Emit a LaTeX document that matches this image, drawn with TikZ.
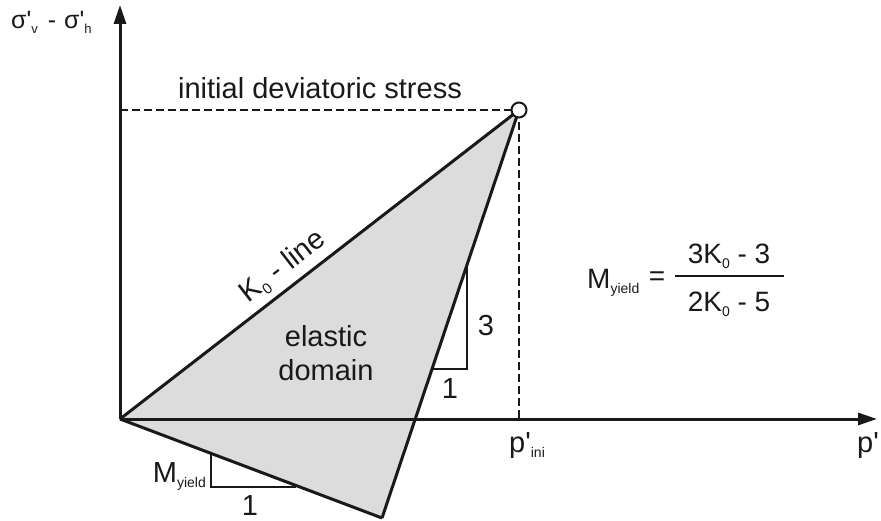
\documentclass[tikz,border=0pt]{standalone}
\usepackage{fontspec}
\newfontfamily\arialf{Liberation Sans}
\usetikzlibrary{arrows.meta}
\definecolor{domaingray}{RGB}{220,220,220}
\definecolor{ink}{RGB}{25,25,25}
\newcommand\lsub[1]{\raisebox{-5pt}{\fontsize{15}{15}\selectfont #1}}
\newcommand\ssub[1]{\raisebox{-5pt}{\fontsize{14}{14}\selectfont #1}}
\newcommand\tsub[1]{\raisebox{-5pt}{\fontsize{13}{13}\selectfont #1}}
\tikzset{
  lbl/.style={font=\arialf\fontsize{29}{33}\selectfont, text=ink, inner sep=0pt},
  flbl/.style={font=\arialf\fontsize{28}{32}\selectfont, text=ink, inner sep=0pt},
  axis/.style={line width=3pt, draw=ink, -{Triangle[length=19pt,width=12pt]}},
  edge/.style={line width=3pt, draw=ink, line join=miter},
  guide/.style={line width=2pt, draw=ink, dash pattern=on 8pt off 4pt},
  slope/.style={line width=2.5pt, draw=ink},
}
\begin{document}
\begin{tikzpicture}[x=1pt,y=-1pt]
\useasboundingbox (0,0) rectangle (881,521);
% key points
\coordinate (O) at (120,419);
\coordinate (A) at (519,110);
\coordinate (B) at (382,518);
\coordinate (Ytop) at (120,5);
\coordinate (Xend) at (877,419);
\coordinate (Yini) at (120,110);
\coordinate (Pini) at (519,419);
% elastic domain
\fill[domaingray] (O) -- (A) -- (B) -- cycle;
% axes
\draw[axis] (O) -- (Ytop);
\draw[axis] (O) -- (Xend);
% guides
\draw[guide] (Yini) -- (A);
\draw[guide] (A) -- (Pini);
% domain edges
\draw[edge] (O) -- node[lbl, pos=0.44, sloped, above=6pt] {K\lsub{0} - line} (A);
\draw[edge] (A) -- (B);
\draw[edge] (B) -- (O);
% apex marker
\node[circle, draw=ink, fill=white, line width=2pt, minimum size=15pt, inner sep=0pt] (apex) at (A) {};
% slope triangle 3:1
\coordinate (T1) at (467,267);
\coordinate (T2) at (467,369);
\coordinate (T3) at (432,369);
\draw[slope] (T1) -- (T2) -- (T3);
\node[lbl, anchor=base] (three) at (486,335) {3};
\node[lbl, anchor=base] (oneA) at (450,398) {1};
% slope triangle M_yield:1
\coordinate (M1) at (211,454);
\coordinate (M2) at (211,487);
\coordinate (M3) at (296,487);
\draw[slope] (M1) -- (M2) -- (M3);
\node[lbl, anchor=base east] (my) at (206,482) {M\ssub{yield}};
\node[lbl, anchor=base] (oneB) at (250,515) {1};
% texts
\node[lbl, anchor=base] (init) at (320,99) {initial deviatoric stress};
\node[lbl, anchor=base west, font=\arialf\fontsize{25}{29}\selectfont] (sig) at (11,29) {σ'\tsub{v}\hspace{3pt} - \hspace{1pt}σ'\tsub{h}};
\node[lbl, anchor=base] (el) at (326,346) {elastic};
\node[lbl, anchor=base] (dom) at (326,380) {domain};
\node[lbl, anchor=base west] (pini) at (509,452) {p'\ssub{ini}};
\node[lbl, anchor=base west] (pp) at (857,452) {p'};
% formula
\node[flbl, anchor=base west] (fm) at (587,289) {M\ssub{yield}};
\node[flbl, anchor=center] (feq) at (657,279) {=};
\node[flbl, anchor=base] (fnum) at (729,264) {3K\ssub{0} - 3};
\node[flbl, anchor=base] (fden) at (729,312) {2K\ssub{0} - 5};
\coordinate (B1) at (675,276);
\coordinate (B2) at (784,276);
\draw[line width=2pt, draw=ink] (B1) -- (B2);
\end{tikzpicture}
\end{document}
